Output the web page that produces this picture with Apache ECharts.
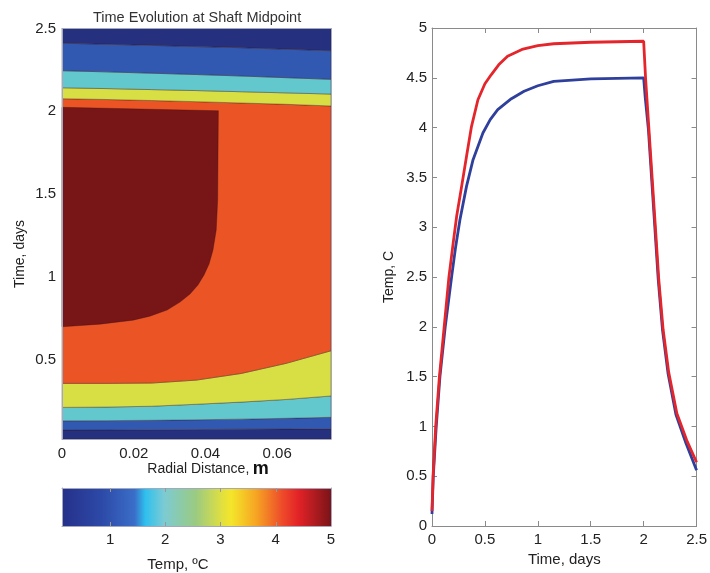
<!DOCTYPE html>
<html>
<head>
<meta charset="utf-8">
<title>Time Evolution at Shaft Midpoint</title>
<script src="https://cdn.jsdelivr.net/npm/echarts@6.0.0/dist/echarts.min.js"></script>
<style>
html,body{margin:0;padding:0;background:#fff;}
#main{width:710px;height:573px;}
</style>
</head>
<body>
<div id="main"></div>
<script>
// contour plot - radial positions (m) where the band edges were read
var radial = [0, 0.0125, 0.025, 0.0375, 0.05, 0.0625, 0.075];
var tMin = 0.02, tMax = 2.5;

// edges while warming (days)
var warm1 = [0.074, 0.075, 0.076, 0.077, 0.079, 0.080, 0.082];
var warm2 = [0.130, 0.131, 0.133, 0.136, 0.140, 0.145, 0.151];
var warm3 = [0.211, 0.213, 0.218, 0.230, 0.243, 0.259, 0.280];
var warm4 = [0.356, 0.356, 0.358, 0.376, 0.416, 0.477, 0.553];
// edges while cooling (days)
var cool1 = [2.076, 2.071, 2.065, 2.058, 2.050, 2.042, 2.032];
var cool2 = [2.142, 2.137, 2.131, 2.125, 2.118, 2.111, 2.104];
var cool3 = [2.245, 2.238, 2.230, 2.222, 2.213, 2.203, 2.193];
var cool4 = [2.411, 2.405, 2.398, 2.391, 2.384, 2.375, 2.366];

// hottest zone outline
var coreR = [0, 0.0436, 0.0435, 0.0434, 0.0430, 0.0421, 0.0410, 0.0396, 0.0379, 0.0357, 0.0329, 0.0293, 0.0245, 0.0198, 0.0106, 0];
var coreT = [2.024, 2.003, 1.75, 1.464, 1.283, 1.162, 1.077, 1.011, 0.950, 0.896, 0.847, 0.799, 0.762, 0.738, 0.714, 0.698];

// colorbar
var cbMin = 0.13, cbMax = 5;
var cbTicks = [1, 2, 3, 4, 5];

// right plot: temperature vs time
var redTime = [0, 0.01, 0.035, 0.07, 0.115, 0.16, 0.2, 0.233, 0.28, 0.326, 0.373, 0.434, 0.5, 0.559, 0.63, 0.714, 0.85, 1.0, 1.15, 1.5, 2.0, 2.019, 2.05, 2.081, 2.112, 2.143, 2.184, 2.237, 2.314, 2.407, 2.5];
var redTemp = [0.15, 0.5, 1.0, 1.5, 2.0, 2.5, 2.84, 3.11, 3.41, 3.71, 4.01, 4.28, 4.44, 4.53, 4.63, 4.717, 4.785, 4.824, 4.842, 4.857, 4.867, 4.48, 3.98, 3.48, 2.98, 2.47, 1.97, 1.54, 1.13, 0.86, 0.64];
var blueTime = [0, 0.012, 0.04, 0.075, 0.125, 0.186, 0.224, 0.264, 0.326, 0.388, 0.481, 0.55, 0.621, 0.75, 0.87, 1.0, 1.15, 1.5, 2.0, 2.015, 2.045, 2.076, 2.107, 2.138, 2.178, 2.23, 2.305, 2.4, 2.5];
var blueTemp = [0.12, 0.5, 1.0, 1.5, 2.0, 2.506, 2.807, 3.075, 3.41, 3.678, 3.946, 4.08, 4.181, 4.29, 4.365, 4.42, 4.465, 4.489, 4.50, 4.3, 3.98, 3.477, 2.975, 2.472, 1.97, 1.535, 1.12, 0.83, 0.56];

var FONT = 'Liberation Sans, Arial, sans-serif';
var TXT = '#222';

function flat(v) {
    return radial.map(function () { return v; });
}
function band(lower, upper, color) {
    var pts = [];
    for (var i = 0; i < radial.length; i++) pts.push([radial[i], lower[i]]);
    for (var j = radial.length - 1; j >= 0; j--) pts.push([radial[j], upper[j]]);
    return { pts: pts, color: color };
}

var shapes = [
    band(flat(tMin), warm1, '#25307f'),
    band(warm1, warm2, '#3159b2'),
    band(warm2, warm3, '#62c8cd'),
    band(warm3, warm4, '#d7df45'),
    band(warm4, cool1, '#eb5526'),
    band(cool1, cool2, '#d7df45'),
    band(cool2, cool3, '#62c8cd'),
    band(cool3, cool4, '#3159b2'),
    band(cool4, flat(tMax), '#25307f'),
    { pts: coreR.map(function (r, i) { return [r, coreT[i]]; }), color: '#781517' }
];

function pairs(xs, ys) {
    return xs.map(function (x, i) { return [x, ys[i]]; });
}

var myChart = echarts.init(document.getElementById('main'));

var frameLine = { show: true, onZero: false, lineStyle: { color: '#a4a8bc', width: 1 } };
var boxLine = { show: true, onZero: false, lineStyle: { color: '#8a8a8a', width: 1 } };
var inTick = { show: true, inside: true, length: 5, lineStyle: { color: '#8a8a8a' } };
var cbTick = { show: true, inside: true, length: 4, customValues: [1, 2, 3, 4], lineStyle: { color: '#999' } };
var label = { color: TXT, fontSize: 15, fontFamily: FONT };

option = {
    animation: false,
    backgroundColor: '#fff',
    title: {
        text: 'Time Evolution at Shaft Midpoint',
        left: 88,
        top: 5,
        textStyle: { color: '#333', fontSize: 14.5, fontWeight: 'normal', fontFamily: FONT }
    },
    grid: [
        { left: 62, top: 28.5, width: 269, height: 410.5 },
        { left: 62, top: 488, width: 269, height: 38 },
        { left: 432, top: 28, width: 268, height: 498 }
    ],
    xAxis: [
        { gridIndex: 0, type: 'value', min: 0, max: 0.075, z: 10,
          axisLine: frameLine, axisTick: { show: false }, splitLine: { show: false },
          axisLabel: Object.assign({ margin: 7, customValues: [0, 0.02, 0.04, 0.06] }, label) },
        { gridIndex: 0, type: 'value', position: 'top', min: 0, max: 0.075, z: 10,
          axisLine: frameLine, axisTick: { show: false }, axisLabel: { show: false }, splitLine: { show: false } },
        { gridIndex: 1, type: 'value', min: cbMin, max: cbMax, z: 10,
          axisLine: frameLine, splitLine: { show: false }, axisTick: cbTick,
          axisLabel: Object.assign({ margin: 6, customValues: cbTicks }, label) },
        { gridIndex: 1, type: 'value', position: 'top', min: cbMin, max: cbMax, z: 10,
          axisLine: frameLine, splitLine: { show: false }, axisLabel: { show: false }, axisTick: cbTick },
        { gridIndex: 2, type: 'value', min: 0, max: 2.5, interval: 0.5,
          name: 'Time, days', nameLocation: 'middle', nameGap: 24,
          nameTextStyle: { color: TXT, fontSize: 15, fontFamily: FONT },
          axisLine: boxLine, axisTick: inTick, splitLine: { show: false },
          axisLabel: Object.assign({ margin: 6 }, label) },
        { gridIndex: 2, type: 'value', position: 'top', min: 0, max: 2.5, interval: 0.5,
          axisLine: boxLine, axisTick: inTick, axisLabel: { show: false }, splitLine: { show: false } }
    ],
    yAxis: [
        { gridIndex: 0, type: 'value', min: tMin, max: tMax, z: 10,
          axisLine: frameLine, axisTick: { show: false }, splitLine: { show: false },
          axisLabel: Object.assign({ margin: 6, customValues: [0.5, 1, 1.5, 2, 2.5] }, label) },
        { gridIndex: 0, type: 'value', position: 'right', min: tMin, max: tMax, z: 10,
          axisLine: frameLine, axisTick: { show: false }, axisLabel: { show: false }, splitLine: { show: false } },
        { gridIndex: 1, type: 'value', min: 0, max: 1, z: 10,
          axisLine: frameLine, axisTick: { show: false }, axisLabel: { show: false }, splitLine: { show: false } },
        { gridIndex: 1, type: 'value', position: 'right', min: 0, max: 1, z: 10,
          axisLine: frameLine, axisTick: { show: false }, axisLabel: { show: false }, splitLine: { show: false } },
        { gridIndex: 2, type: 'value', min: 0, max: 5, interval: 0.5,
          name: 'Temp, C', nameLocation: 'middle', nameGap: 36,
          nameTextStyle: { color: TXT, fontSize: 14, fontFamily: FONT },
          axisLine: boxLine, axisTick: inTick, splitLine: { show: false },
          axisLabel: Object.assign({ margin: 5 }, label) },
        { gridIndex: 2, type: 'value', position: 'right', min: 0, max: 5, interval: 0.5,
          axisLine: boxLine, axisTick: inTick, axisLabel: { show: false }, splitLine: { show: false } }
    ],
    graphic: [
        { type: 'text', x: 20, y: 254, rotation: Math.PI / 2,
          style: { text: 'Time, days', fill: TXT, font: '14px ' + FONT, align: 'center', verticalAlign: 'middle' } },
        { type: 'text', x: 208, y: 469,
          style: { text: '{a|Radial Distance,} {b|m}', align: 'center', verticalAlign: 'middle',
                   rich: { a: { fill: TXT, fontSize: 14, fontFamily: FONT },
                           b: { fill: '#111', fontSize: 18, fontWeight: 'bold', fontFamily: FONT } } } },
        { type: 'text', x: 178, y: 565,
          style: { text: 'Temp, ºC', fill: TXT, font: '15px ' + FONT, align: 'center', verticalAlign: 'middle' } }
    ],
    series: [
        {
            type: 'custom',
            xAxisIndex: 0, yAxisIndex: 0,
            data: shapes.map(function (s) { return s.pts[0]; }),
            renderItem: function (params, api) {
                var s = shapes[params.dataIndex];
                return {
                    type: 'polygon',
                    shape: { points: s.pts.map(function (p) { return api.coord(p); }) },
                    style: { fill: s.color, stroke: 'rgba(50,20,20,0.45)', lineWidth: 0.8 }
                };
            }
        },
        {
            type: 'custom',
            xAxisIndex: 2, yAxisIndex: 2,
            data: [[cbMin, 0]],
            renderItem: function (params, api) {
                var a = api.coord([cbMin, 1]);
                var b = api.coord([cbMax, 0]);
                return {
                    type: 'rect',
                    shape: { x: a[0], y: a[1], width: b[0] - a[0], height: b[1] - a[1] },
                    style: {
                        fill: new echarts.graphic.LinearGradient(0, 0, 1, 0, [
                            { offset: 0, color: '#25308a' },
                            { offset: 0.15, color: '#2d4aa8' },
                            { offset: 0.27, color: '#3a6ec8' },
                            { offset: 0.31, color: '#2fc0ee' },
                            { offset: 0.38, color: '#7ccbd3' },
                            { offset: 0.5, color: '#9ccb80' },
                            { offset: 0.6, color: '#e4e13c' },
                            { offset: 0.63, color: '#f4e52a' },
                            { offset: 0.72, color: '#f6a623' },
                            { offset: 0.82, color: '#ee4a2a' },
                            { offset: 0.88, color: '#e22227' },
                            { offset: 1, color: '#7a1418' }
                        ])
                    }
                };
            }
        },
        {
            type: 'line',
            xAxisIndex: 4, yAxisIndex: 4,
            data: pairs(blueTime, blueTemp),
            showSymbol: false,
            lineStyle: { color: '#2f3f9c', width: 2.8 }
        },
        {
            type: 'line',
            xAxisIndex: 4, yAxisIndex: 4,
            data: pairs(redTime, redTemp),
            showSymbol: false,
            lineStyle: { color: '#e4252b', width: 2.8 }
        }
    ]
};

myChart.setOption(option);
</script>
</body>
</html>
